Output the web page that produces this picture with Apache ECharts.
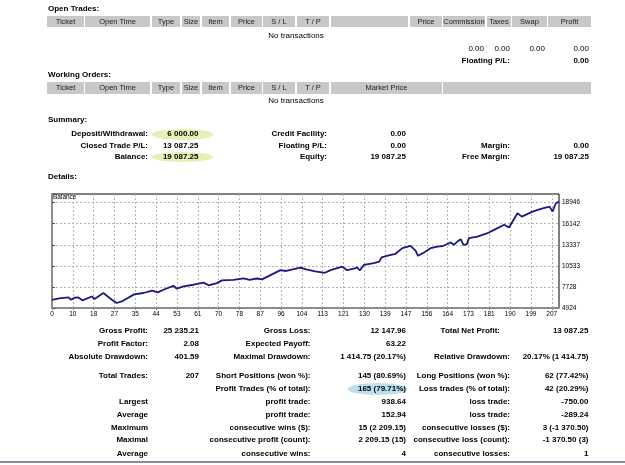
<!DOCTYPE html>
<html>
<head>
<meta charset="utf-8">
<script src="https://cdn.jsdelivr.net/npm/echarts@6/dist/echarts.min.js"></script>
<style>
html,body{margin:0;padding:0;background:#fff;}
#page{position:relative;width:625px;height:465px;overflow:hidden;font-family:"Liberation Sans",Arial,sans-serif;}
#balance{position:absolute;left:0;top:0;width:625px;height:465px;}
.t{position:absolute;white-space:nowrap;font-size:8px;line-height:10px;color:#000;transform:translateY(-50%);}
.b{font-weight:bold;}
.hd{position:absolute;background:#c8c8c8;font-size:7.5px;color:#222;text-align:center;}
.oval{position:absolute;border-radius:50%;}
.rule{position:absolute;left:0;width:625px;top:461px;height:2px;background:#8c8c9c;}
</style>
</head>
<body>
<div id="page">
  <div id="balance"></div>
</div>
<script>
// balance curve: [trade #, balance]
var balance = [
  [0,6000],[3,6200],[6.8,6330],[7.9,6030],[9.5,6300],[10.9,6330],[12.6,5950],[16.5,6460],
  [17.6,6120],[21.3,6910],[22.7,6560],[24.8,6030],[26.8,5590],[28.9,5800],[34,6740],[37.9,6920],
  [41.4,7240],[43.8,7000],[46.9,7450],[50.3,7880],[51.7,7490],[54.5,7790],[58.6,8020],[62.8,8300],
  [64.9,7950],[68.3,8240],[70.4,8600],[75.2,8680],[79.4,8880],[81.8,8680],[84.9,8850],[87,8740],
  [94.6,9960],[97,9850],[102.9,10300],[105.3,10060],[109,9800],[113,9610],[115.4,9960],[120.2,10420],
  [121,10500],[122.3,9960],[125.4,10200],[126.4,10330],[127.5,9920],[129.2,10670],[133.3,10900],[135.5,11100],
  [136.5,11650],[139.5,11930],[142.3,12140],[145.1,12890],[148.5,13200],[150.6,12570],[151.6,11870],[154.1,12310],
  [156.8,12890],[159.6,13100],[161.7,13150],[165.1,13640],[166.5,13330],[167.9,13770],[169.3,14090],[170.4,13330],
  [171.8,13400],[172.7,14220],[176.2,14430],[180.4,14880],[183.1,15320],[187.3,16000],[189.3,15630],[192.8,17540],
  [194.6,17090],[199,17750],[203.2,18200],[206.1,18420],[207.3,17750],[208.7,18870],[210,19087]
];
var xLabels = ['0','10','18','27','35','44','53','61','70','78','87','96','104','113','121','130','139','147','156','164','173','181','190','199','207'];
var yLabels = [4924, 7728, 10533, 13337, 16142, 18946];
var xMax = 210, yMax = 20100;

var headNames1 = ['Ticket','Open Time','Type','Size','Item','Price','S / L','T / P','','Price','Commission','Taxes','Swap','Profit'];
var headNames2 = ['Ticket','Open Time','Type','Size','Item','Price','S / L','T / P','Market Price',''];
var openTotals = ['0.00','0.00','0.00','0.00'];

var summaryLabels1 = ['Deposit/Withdrawal:','Closed Trade P/L:','Balance:'];
var summaryValues1 = ['6 000.00','13 087.25','19 087.25'];
var summaryLabels2 = ['Credit Facility:','Floating P/L:','Equity:'];
var summaryValues2 = ['0.00','0.00','19 087.25'];
var summaryLabels3 = ['','Margin:','Free Margin:'];
var summaryValues3 = ['','0.00','19 087.25'];

var detailLabels1 = ['Gross Profit:','Profit Factor:','Absolute Drawdown:','Total Trades:','','Largest','Average','Maximum','Maximal','Average'];
var detailValues1 = ['25 235.21','2.08','401.59','207','','','','','',''];
var detailLabels2 = ['Gross Loss:','Expected Payoff:','Maximal Drawdown:','Short Positions (won %):','Profit Trades (% of total):','profit trade:','profit trade:','consecutive wins ($):','consecutive profit (count):','consecutive wins:'];
var detailValues2 = ['12 147.96','63.22','1 414.75 (20.17%)','145 (80.69%)','165 (79.71%)','938.64','152.94','15 (2 209.15)','2 209.15 (15)','4'];
var detailLabels3 = ['Total Net Profit:','','Relative Drawdown:','Long Positions (won %):','Loss trades (% of total):','loss trade:','loss trade:','consecutive losses ($):','consecutive loss (count):','consecutive losses:'];
var detailValues3 = ['13 087.25','','20.17% (1 414.75)','62 (77.42%)','42 (20.29%)','-750.00','-289.24','3 (-1 370.50)','-1 370.50 (3)','1'];

// layout
var headCols1 = [[47,84],[85,150],[152,180],[182,200],[202,229],[231,262],[263,295],[297,329],[331,408],[410,442],[443,485],[487,511],[512,547],[548,591]];
var headCols2 = [[47,84],[85,150],[152,180],[182,200],[202,229],[231,262],[263,295],[297,329],[331,442],[443,591]];
var totalsRight = [484,510,545,589];
var summaryY = [134.3,145.7,156.7];
var detailY = [330.7,344,357.3,376,389,402.3,415,427.7,440.3,453.5];

var page = document.getElementById('page');
function put(x, y, s, align, bold) {
  if (!s) return;
  var d = document.createElement('div');
  d.className = 't' + (bold ? ' b' : '');
  d.textContent = s;
  if (align === 'right') d.style.right = (625 - x) + 'px';
  else if (align === 'center') { d.style.left = x + 'px'; d.style.transform = 'translate(-50%,-50%)'; }
  else d.style.left = x + 'px';
  d.style.top = y + 'px';
  page.appendChild(d);
}
function head(cols, names, top) {
  cols.forEach(function (c, i) {
    var d = document.createElement('div');
    d.className = 'hd';
    d.style.left = c[0] + 'px';
    d.style.width = (c[1] - c[0]) + 'px';
    d.style.top = top + 'px';
    d.style.height = '11.5px';
    d.style.lineHeight = '11.5px';
    d.textContent = names[i];
    page.appendChild(d);
  });
}
function oval(x1, y1, x2, y2, color) {
  var d = document.createElement('div');
  d.className = 'oval';
  d.style.left = x1 + 'px'; d.style.top = y1 + 'px';
  d.style.width = (x2 - x1) + 'px'; d.style.height = (y2 - y1) + 'px';
  d.style.background = color;
  page.appendChild(d);
}

oval(151.7, 129.3, 213.3, 140, '#e6efb4');
oval(151.7, 151.7, 213.3, 162.3, '#e6efb4');
oval(347.7, 383.3, 406.7, 395, '#bcdfee');

put(48, 9, 'Open Trades:', 'left', true);
head(headCols1, headNames1, 15.7);
put(296, 35.7, 'No transactions', 'center', false);
openTotals.forEach(function (v, i) { put(totalsRight[i], 49, v, 'right', false); });
put(510, 61.3, 'Floating P/L:', 'right', true);
put(589, 61.3, '0.00', 'right', true);

put(48, 75, 'Working Orders:', 'left', true);
head(headCols2, headNames2, 82);
put(296, 100.7, 'No transactions', 'center', false);

put(48, 120, 'Summary:', 'left', true);
summaryY.forEach(function (y, i) {
  put(148, y, summaryLabels1[i], 'right', true);
  put(198.5, y, summaryValues1[i], 'right', true);
  put(327, y, summaryLabels2[i], 'right', true);
  put(406, y, summaryValues2[i], 'right', true);
  put(510, y, summaryLabels3[i], 'right', true);
  put(589, y, summaryValues3[i], 'right', true);
});

put(48, 177, 'Details:', 'left', true);
detailY.forEach(function (y, i) {
  put(148, y, detailLabels1[i], 'right', true);
  put(199, y, detailValues1[i], 'right', true);
  put(310.5, y, detailLabels2[i], 'right', true);
  put(406, y, detailValues2[i], 'right', true);
  put(i === 0 ? 500 : 510, y, detailLabels3[i], 'right', true);
  put(588.5, y, detailValues3[i], 'right', true);
});
var rule = document.createElement('div');
rule.className = 'rule';
page.appendChild(rule);

// balance chart
var xTickPos = xLabels.map(function (l, i) { return i * 207 / (xLabels.length - 1); });
var charts = echarts.init(document.getElementById('balance'));
var gridLine = { show: true, lineStyle: { color: '#b4b4b4', width: 1, type: [2, 2] } };
var option = {
  animation: false,
  title: {
    text: 'Balance', left: 53, top: 194, padding: 0,
    textStyle: { fontSize: 6.5, fontWeight: 'normal', color: '#000', fontFamily: 'Liberation Sans' }
  },
  grid: { left: 52, top: 194, width: 507, height: 114, show: true, borderColor: '#000', borderWidth: 1, backgroundColor: '#fff' },
  xAxis: {
    type: 'value', min: 0, max: xMax,
    axisLine: { show: true, onZero: false, lineStyle: { color: '#8c8c8c', width: 2 } },
    axisTick: { show: true, length: 2, customValues: xTickPos, lineStyle: { color: '#8c8c8c' } },
    axisLabel: {
      customValues: xTickPos, fontSize: 6.5, margin: 3, color: '#000', fontFamily: 'Liberation Sans',
      formatter: function (v) { return xLabels[Math.round(v * (xLabels.length - 1) / 207)]; }
    },
    splitLine: gridLine
  },
  yAxis: {
    type: 'value', position: 'right', min: yLabels[0], max: yMax,
    axisLine: { show: true, lineStyle: { color: '#8c8c8c', width: 2 } },
    axisTick: { show: true, length: 3, customValues: yLabels, lineStyle: { color: '#555' } },
    axisLabel: {
      customValues: yLabels, fontSize: 6.5, margin: 3, color: '#000', fontFamily: 'Liberation Sans',
      formatter: function (v) { return String(Math.round(v)); }
    },
    splitLine: gridLine
  },
  series: [{
    type: 'line', data: balance, showSymbol: false, silent: true,
    lineStyle: { color: '#1a1a80', width: 1.8 }
  }]
};
charts.setOption(option);
</script>
</body>
</html>
